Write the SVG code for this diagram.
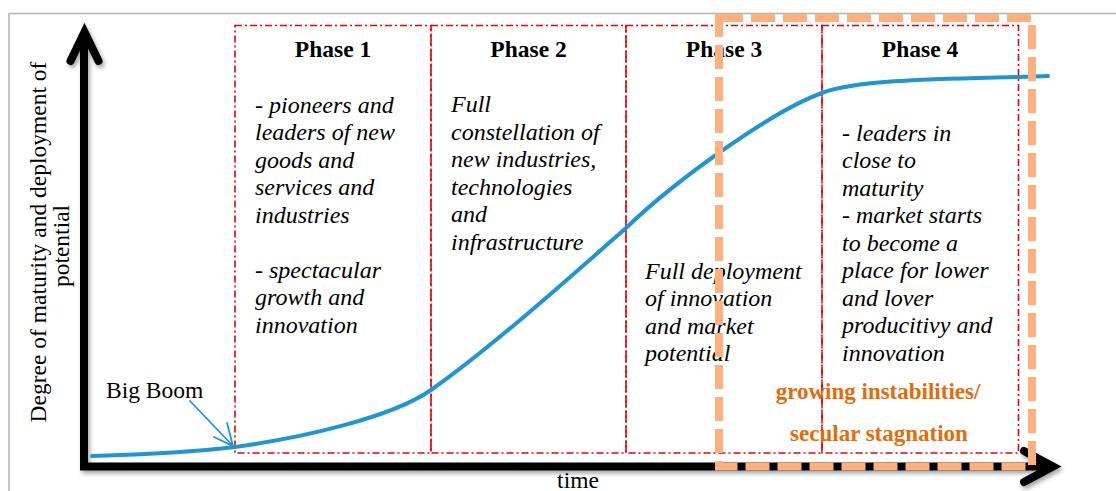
<svg xmlns="http://www.w3.org/2000/svg" width="1116" height="491" viewBox="0 0 1116 491">
  <defs>
    <filter id="shadow" x="-5%" y="-5%" width="110%" height="115%">
      <feDropShadow dx="2" dy="3" stdDeviation="2" flood-color="#000" flood-opacity="0.35"/>
    </filter>
    <style>
      .frame { fill: none; stroke: #b4b4b4; stroke-width: 1.5; }
      .axis { fill: none; stroke: #000; stroke-width: 8; }
      .phase { fill: none; stroke: #e8000b; stroke-width: 1.6; stroke-dasharray: 7 3 2 3; }
      .title { font-family: "Liberation Serif", "Times New Roman", serif; font-weight: bold; font-size: 23.5px; fill: #000; text-anchor: middle; }
      .body { font-family: "Liberation Serif", "Times New Roman", serif; font-style: italic; font-size: 24px; fill: #000; }
      .plain { font-family: "Liberation Serif", "Times New Roman", serif; font-size: 23.5px; fill: #000; }
      .warn { font-family: "Liberation Serif", "Times New Roman", serif; font-weight: bold; font-size: 23px; fill: #e36c09; text-anchor: middle; }
      .curve { fill: none; stroke: #1e96d3; stroke-width: 4; stroke-linecap: round; }
      .pointer { fill: none; stroke: #1e96d3; stroke-width: 1.8; stroke-linecap: round; stroke-linejoin: miter; }
      .orange { fill: none; stroke: #ffb07c; stroke-width: 8; stroke-dasharray: 24 8; }
    </style>
  </defs>

  <rect width="1116" height="491" fill="#fff"/>

  <g id="frame">
    <path class="frame" d="M9,491 L9,13.5 L1116,13.5"/>
  </g>

  <g id="phase1">
    <rect class="phase" x="235" y="25.5" width="196" height="427.5"/>
    <text class="title" x="333" y="57">Phase 1</text>
    <text class="body">
      <tspan x="255" y="112.5">- pioneers and</tspan>
      <tspan x="255" y="140">leaders of new</tspan>
      <tspan x="255" y="167.5">goods and</tspan>
      <tspan x="255" y="195">services and</tspan>
      <tspan x="255" y="222.5">industries</tspan>
      <tspan x="255" y="277.5">- spectacular</tspan>
      <tspan x="255" y="305">growth and</tspan>
      <tspan x="255" y="332.5">innovation</tspan>
    </text>
  </g>

  <g id="phase2">
    <rect class="phase" x="431" y="25.5" width="195" height="427.5"/>
    <text class="title" x="528.5" y="57">Phase 2</text>
    <text class="body">
      <tspan x="451" y="112">Full</tspan>
      <tspan x="451" y="139.5">constellation of</tspan>
      <tspan x="451" y="167">new industries,</tspan>
      <tspan x="451" y="194.5">technologies</tspan>
      <tspan x="451" y="222">and</tspan>
      <tspan x="451" y="249.5">infrastructure</tspan>
    </text>
  </g>

  <g id="phase3">
    <rect class="phase" x="626" y="25.5" width="196" height="427.5"/>
    <text class="title" x="724" y="57">Phase 3</text>
    <text class="body">
      <tspan x="645" y="278.5">Full deployment</tspan>
      <tspan x="645" y="306">of innovation</tspan>
      <tspan x="645" y="333.5">and market</tspan>
      <tspan x="645" y="361">potential</tspan>
    </text>
  </g>

  <g id="phase4">
    <rect class="phase" x="822" y="25.5" width="196.5" height="427.5"/>
    <text class="title" x="920" y="57">Phase 4</text>
    <text class="body">
      <tspan x="842" y="140.5">- leaders in</tspan>
      <tspan x="842" y="168">close to</tspan>
      <tspan x="842" y="195.5">maturity</tspan>
      <tspan x="842" y="223">- market starts</tspan>
      <tspan x="842" y="250.5">to become a</tspan>
      <tspan x="842" y="278">place for lower</tspan>
      <tspan x="842" y="305.5">and lover</tspan>
      <tspan x="842" y="333">producitivy and</tspan>
      <tspan x="842" y="360.5">innovation</tspan>
    </text>
  </g>

  <g id="axes" filter="url(#shadow)">
    <path class="axis" d="M84,36 L84,466.5 L1048,466.5"/>
    <polyline class="axis" points="70.5,61 84.5,32 98.5,61" stroke-linecap="round" stroke-linejoin="miter"/>
    <polyline class="axis" points="1024,451 1053,466.5 1024,482" stroke-linecap="round" stroke-linejoin="miter"/>
  </g>

  <g id="axis-labels">
    <text class="plain" text-anchor="middle" transform="translate(46,242) rotate(-90)">Degree of maturity and deployment of</text>
    <text class="plain" text-anchor="middle" transform="translate(69,246) rotate(-90)">potential</text>
    <text class="plain" text-anchor="middle" x="578" y="488">time</text>
  </g>

  <g id="connectors">
    <path class="curve" d="M92,456 C160,454 210,450 235,447 C300,438 391,418 431,390 C491,348 576,272 626,228 C676,180 772,111 822,93 C862,78 960,79 1048,76"/>
    <path class="pointer" d="M190,401 L233,446 M214,437 L233,446 L227,423"/>
  </g>

  <g id="big-boom">
    <text class="plain" x="106" y="398">Big Boom</text>
  </g>

  <g id="instability">
    <rect class="orange" x="719" y="18" width="313" height="448.5"/>
    <text class="warn" x="878" y="399">growing instabilities/</text>
    <text class="warn" x="879" y="441">secular stagnation</text>
  </g>
</svg>
